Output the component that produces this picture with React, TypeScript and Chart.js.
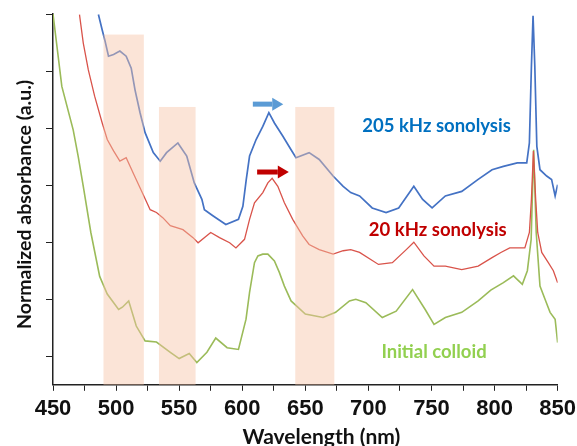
import React, { useEffect, useRef } from 'react';
import { Chart, registerables } from 'chart.js';
Chart.register(...registerables);

// Wavelength (nm) / normalized absorbance (a.u., offset for display)
const greenX = [450, 457, 466, 470, 474, 480, 487, 493, 502, 505, 510, 516, 523, 532, 543, 550, 558, 564, 572, 579, 588, 597, 603, 605.8, 609.7, 612.4, 616.3, 620.3, 625.5, 629.4, 633.4, 638.7, 650, 664, 674, 685, 690, 698, 711, 722, 735, 745, 752, 761, 774, 787, 797, 807, 815, 822, 826, 829, 831, 833, 836, 840, 844, 848, 850];
const greenY = [6.5, 5.23, 4.47, 4.0, 3.48, 2.67, 1.9, 1.59, 1.32, 1.36, 1.47, 1.03, 0.77, 0.75, 0.57, 0.46, 0.55, 0.39, 0.57, 0.82, 0.65, 0.62, 1.15, 1.62, 2.14, 2.26, 2.29, 2.29, 2.17, 1.97, 1.73, 1.47, 1.24, 1.18, 1.27, 1.47, 1.5, 1.44, 1.18, 1.29, 1.67, 1.32, 1.06, 1.18, 1.27, 1.47, 1.66, 1.79, 1.91, 1.76, 2.0, 2.55, 4.12, 2.67, 1.73, 1.5, 1.27, 1.15, 0.74];

const redX = [471, 474, 478, 483, 489, 493, 498, 503, 508, 514, 522, 527, 532, 537, 543, 553, 561, 565, 575, 582, 590, 595, 601.8, 605.8, 609.7, 616.3, 620.3, 623.7, 628.2, 633.4, 640, 647.9, 653, 661, 672, 680, 686, 693, 708, 719, 730, 736, 744, 752, 761, 774, 787, 798, 805, 812, 824, 827.6, 829.2, 830.8, 832.6, 834.2, 837.4, 842.6, 846.6, 850];
const redY = [6.49, 5.99, 5.52, 5.06, 4.59, 4.3, 4.1, 3.92, 3.98, 3.69, 3.31, 3.07, 3.02, 2.93, 2.79, 2.72, 2.58, 2.49, 2.67, 2.58, 2.49, 2.4, 2.55, 2.9, 3.19, 3.37, 3.54, 3.62, 3.48, 3.19, 2.9, 2.61, 2.46, 2.37, 2.29, 2.35, 2.37, 2.32, 2.11, 2.14, 2.37, 2.5, 2.26, 2.08, 2.08, 2.02, 2.08, 2.23, 2.32, 2.4, 2.4, 2.67, 3.25, 4.1, 3.25, 2.67, 2.32, 2.14, 2.0, 1.79];

const blueX = [486, 489, 491, 494, 498, 503, 508, 512, 515, 519, 523, 529.5, 535, 540, 549, 556, 562, 568, 570, 577, 587, 597, 600.5, 603.2, 605.8, 611, 616.3, 621.1, 625.5, 632.1, 638.7, 642.6, 653, 661, 672, 680, 686, 693, 703, 714, 724, 736, 743, 750.5, 761, 774, 787, 798, 807, 818, 825.5, 827.6, 829.2, 830.5, 831.9, 833.5, 836, 841.3, 845.2, 848, 850];
const blueY = [6.49, 6.22, 6.05, 5.76, 5.79, 5.85, 5.76, 5.55, 5.17, 4.77, 4.42, 4.07, 3.92, 4.07, 4.24, 4.01, 3.54, 3.25, 3.07, 2.96, 2.81, 2.9, 3.13, 3.6, 4.01, 4.3, 4.53, 4.77, 4.59, 4.36, 4.12, 3.98, 4.07, 3.95, 3.66, 3.48, 3.37, 3.31, 3.1, 3.02, 3.1, 3.48, 3.25, 3.1, 3.31, 3.39, 3.6, 3.77, 3.83, 3.89, 3.89, 4.24, 5.58, 6.47, 5.58, 4.18, 3.77, 3.66, 3.6, 3.31, 3.51];

const seriesNames = ['205 kHz sonolysis', '20 kHz sonolysis', 'Initial colloid'];
const labelX = [754, 755, 752];
const labelY = [4.53, 2.72, 0.57];

const bandStart = [490, 534, 642];
const bandEnd = [522, 563, 673];
const bandTop = [6.14, 4.87, 4.87];

const arrowStart = [608.4, 611.8];
const arrowEnd = [632.5, 636.9];
const arrowY = [4.92, 3.73];

const yTickValues = [0.5, 1.5, 2.5, 3.5, 4.5, 5.5, 6.5];
const xAxisTitle = 'Wavelength (nm)';
const yAxisTitle = 'Normalized absorbance (a.u.)';

const FONT = 'Lato, "Open Sans", sans-serif';

const overlayPlugin = {
  id: 'overlay',
  afterDatasetsDraw(chart: any) {
    const { ctx, scales, chartArea } = chart;
    const x = scales.x;
    const y = scales.y;
    ctx.save();
    ctx.fillStyle = 'rgba(246,196,166,0.45)';
    for (let i = 0; i < bandStart.length; i++) {
      const x0 = x.getPixelForValue(bandStart[i]);
      const x1 = x.getPixelForValue(bandEnd[i]);
      const y0 = y.getPixelForValue(bandTop[i]);
      const y1 = chartArea.bottom;
      ctx.fillRect(x0, y0, x1 - x0, y1 - y0);
    }
    const arrowColors = ['#5B9BD5', '#C00000'];
    for (let i = 0; i < arrowStart.length; i++) {
      const xs = x.getPixelForValue(arrowStart[i]);
      const xe = x.getPixelForValue(arrowEnd[i]);
      const yc = y.getPixelForValue(arrowY[i]);
      const headLen = 11;
      const bodyH = 5;
      const headH = 13;
      ctx.fillStyle = arrowColors[i];
      ctx.fillRect(xs, yc - bodyH / 2, xe - xs - headLen, bodyH);
      ctx.beginPath();
      ctx.moveTo(xe - headLen, yc - headH / 2);
      ctx.lineTo(xe, yc);
      ctx.lineTo(xe - headLen, yc + headH / 2);
      ctx.closePath();
      ctx.fill();
    }
    const labelColors = ['#0070C0', '#C00000', '#92D050'];
    ctx.font = 'bold 18.5px ' + FONT;
    ctx.textAlign = 'center';
    ctx.textBaseline = 'middle';
    for (let i = 0; i < seriesNames.length; i++) {
      ctx.fillStyle = labelColors[i];
      ctx.fillText(seriesNames[i], x.getPixelForValue(labelX[i]), y.getPixelForValue(labelY[i]));
    }
    ctx.restore();
  },
  afterDraw(chart: any) {
    const { ctx, chartArea } = chart;
    ctx.save();
    ctx.fillStyle = '#111';
    ctx.textAlign = 'center';
    ctx.textBaseline = 'middle';
    ctx.font = 'bold 21px ' + FONT;
    ctx.fillText(xAxisTitle, (chartArea.left + chartArea.right) / 2 + 16, chartArea.bottom + 52);
    ctx.font = 'bold 19.5px ' + FONT;
    ctx.translate(chartArea.left - 28, (chartArea.top + chartArea.bottom) / 2 + 5);
    ctx.rotate(-Math.PI / 2);
    ctx.fillText(yAxisTitle, 0, 0);
    ctx.restore();
  },
};

function toPoints(xs: number[], ys: number[]) {
  return xs.map((v, i) => ({ x: v, y: ys[i] }));
}

export default function App() {
  const ref = useRef<HTMLCanvasElement | null>(null);
  useEffect(() => {
    if (!ref.current) return;
    const chart = new Chart(ref.current, {
      type: 'line',
      data: {
        datasets: [
          { label: seriesNames[0], data: toPoints(blueX, blueY), borderColor: '#4472C4', borderWidth: 1.7, pointRadius: 0, tension: 0 },
          { label: seriesNames[1], data: toPoints(redX, redY), borderColor: '#D9534A', borderWidth: 1.3, pointRadius: 0, tension: 0 },
          { label: seriesNames[2], data: toPoints(greenX, greenY), borderColor: '#9BBB59', borderWidth: 1.6, pointRadius: 0, tension: 0 },
        ],
      },
      options: {
        animation: false,
        responsive: false,
        layout: { padding: { left: 46, right: 19, top: 14, bottom: 18 } },
        plugins: { legend: { display: false }, tooltip: { enabled: false } },
        scales: {
          x: {
            type: 'linear',
            min: 450,
            max: 850,
            grid: { display: true, drawOnChartArea: false, tickLength: 6, color: '#222' },
            border: { display: true, color: '#222', width: 1.5 },
            ticks: {
              stepSize: 25,
              autoSkip: false,
              maxRotation: 0,
              color: '#111',
              padding: 1,
              font: { family: '"Liberation Sans", Arial, sans-serif', size: 22, weight: 'bold', lineHeight: 1.6 },
              callback: (v: any) => (Number(v) % 50 === 0 ? String(v) : ''),
            },
          },
          y: {
            type: 'linear',
            min: 0,
            max: 6.5,
            afterBuildTicks: (scale: any) => {
              scale.ticks = yTickValues.map((v) => ({ value: v }));
            },
            grid: { display: true, drawOnChartArea: false, tickLength: 7, color: '#222' },
            border: { display: true, color: '#222', width: 1.5 },
            ticks: { display: false },
          },
        },
      },
      plugins: [overlayPlugin],
    } as any);
    return () => chart.destroy();
  }, []);
  return (
    <div style={{ position: 'fixed', left: 0, top: 0, width: 577, height: 446, background: '#fff' }}>
      <canvas ref={ref} width={577} height={446} />
    </div>
  );
}
